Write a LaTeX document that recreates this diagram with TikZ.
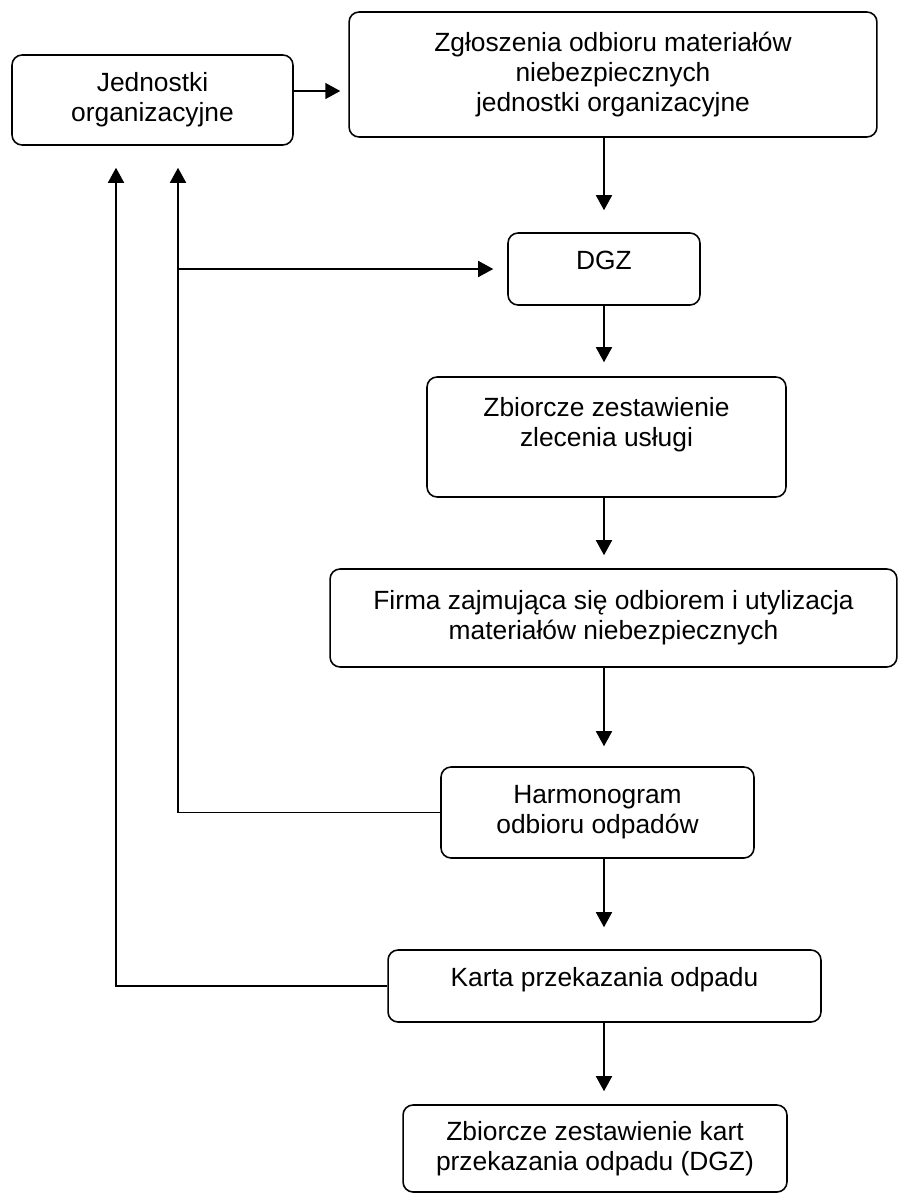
\documentclass[tikz,border=0pt]{standalone}
\usepackage{fontspec}
\setmainfont{Liberation Sans}
\usetikzlibrary{arrows.meta}

\begin{document}
\begin{tikzpicture}[x=0.02cm,y=-0.02cm,line width=0.9pt,
	box/.style={draw,rounded corners=0.2cm,inner sep=0pt,font=\fontsize{15pt}{17pt}\selectfont},
	multibox/.style={box,align=center},
	onebox/.style={box,text height=0.72cm,text depth=0.72cm},
	arr/.style={-{Triangle[length=0.3cm,width=0.32cm]}}]
	\useasboundingbox (0,0) rectangle (898,1194);
	\node [multibox,minimum width=5.62cm,minimum height=1.8cm] (jedn) at (152.5,100) {Jednostki\\organizacyjne};
	\node [multibox,minimum width=10.56cm,minimum height=2.5cm] (zgl) at (613,74.5) {Zgłoszenia odbioru materiałów\\niebezpiecznych\\jednostki organizacyjne};
	\node [onebox,minimum width=3.84cm] (dgz) at (604,269) {DGZ};
	\node [multibox,minimum width=7.18cm,minimum height=2.4cm] (zlec) at (606.5,437) {Zbiorcze zestawienie\\zlecenia usługi\\ \mbox{}};
	\node [multibox,minimum width=11.34cm,minimum height=1.96cm] (firma) at (613.5,618) {Firma zajmująca się odbiorem i utylizacja\\materiałów niebezpiecznych};
	\node [multibox,minimum width=6.26cm,minimum height=1.82cm] (harm) at (597.5,812.5) {Harmonogram\\odbioru odpadów};
	\node [onebox,minimum width=8.66cm] (karta) at (604.5,986) {Karta przekazania odpadu};
	\node [multibox,minimum width=7.68cm,minimum height=1.74cm] (zest) at (595,1148.5) {Zbiorcze zestawienie kart\\przekazania odpadu (DGZ)};
	\coordinate (axis) at (604,0);
	\coordinate (back1) at (116,0);
	\coordinate (back2) at (178,0);
	\draw [arr,shorten >=0.16cm] ([yshift=0.18cm]jedn.east) -- ([yshift=0.18cm]jedn.east -| zgl.west);
	\draw [arr,shorten >=0.44cm] (zgl.south -| axis) -- (dgz.north -| axis);
	\draw [arr,shorten >=0.28cm] (dgz.south -| axis) -- (zlec.north -| axis);
	\draw [arr,shorten >=0.26cm] (zlec.south -| axis) -- (firma.north -| axis);
	\draw [arr,shorten >=0.4cm] (firma.south -| axis) -- (harm.north -| axis);
	\draw [arr,shorten >=0.44cm] (harm.south -| axis) -- (karta.north -| axis);
	\draw [arr,shorten >=0.26cm] (karta.south -| axis) -- (zest.north -| axis);
	\draw [arr,shorten >=0.44cm] (harm.west) -| (back2 |- jedn.south);
	\draw [arr,shorten >=0.44cm] (karta.west) -| (back1 |- jedn.south);
	\draw [arr,shorten >=0.28cm] (back2 |- dgz.west) -- (dgz.west);
\end{tikzpicture}
\end{document}
